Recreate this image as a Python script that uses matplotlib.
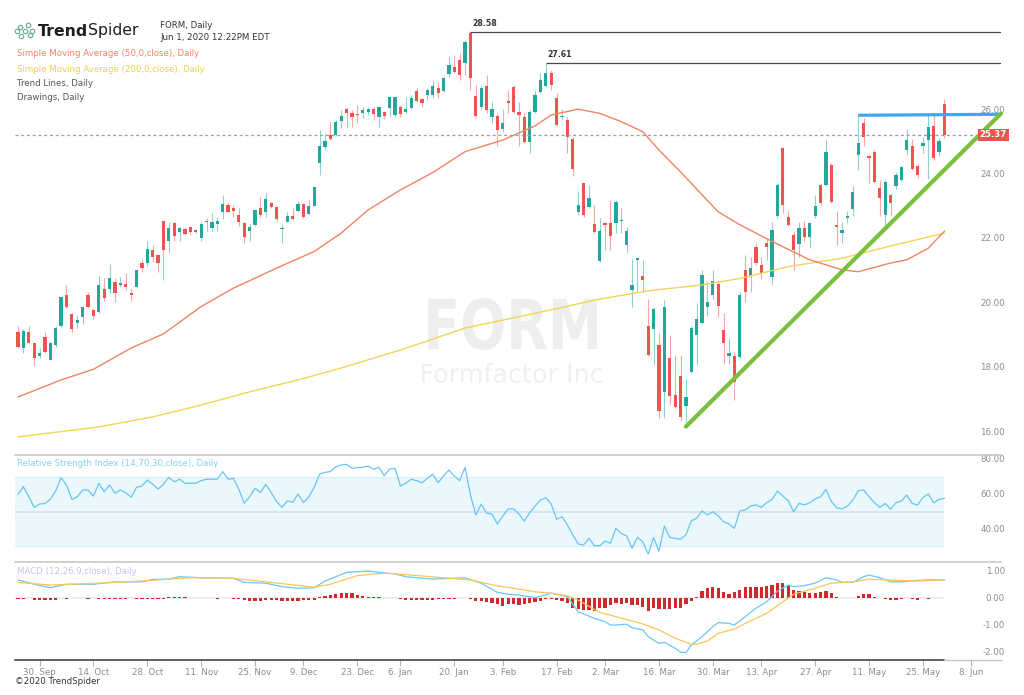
import numpy as np
import pandas as pd
import matplotlib
matplotlib.use("Agg")
import matplotlib.pyplot as plt
from matplotlib.lines import Line2D
from matplotlib.textpath import TextPath
from matplotlib.patches import PathPatch
from matplotlib.font_manager import FontProperties
from matplotlib.transforms import Affine2D, blended_transform_factory, ScaledTranslation

# ---------------- data ----------------
first_day = "2019-09-24"
holidays = ["2019-11-28", "2019-12-25", "2020-01-01", "2020-01-20",
            "2020-02-17", "2020-04-10", "2020-05-25"]

opens = [19.26, 18.74, 19.24, 18.90, 18.51, 19.10, 18.38, 18.85, 19.42, 20.40,
         19.81, 19.52, 19.71, 20.40, 19.93, 19.88, 20.57, 20.58, 20.79, 20.71,
         20.74, 20.45, 20.66, 21.38, 21.40, 21.80, 21.64, 22.70, 22.06, 22.62,
         22.34, 22.44, 22.52, 22.42, 22.18, 22.71, 22.47, 22.60, 22.96, 23.19,
         23.11, 22.88, 22.62, 22.37, 22.57, 23.09, 22.99, 23.25, 23.14, 22.44,
         22.68, 22.85, 23.02, 23.22, 22.90, 23.17, 24.51, 24.99, 25.37, 25.37,
         25.80, 26.17, 26.06, 26.02, 26.04, 26.07, 26.17, 25.94, 26.07, 26.20,
         25.99, 26.25, 26.09, 26.20, 26.74, 26.48, 26.61, 26.61, 26.82, 26.74,
         27.26, 27.49, 27.70, 27.61, 28.55, 26.58, 26.23, 26.89, 25.94, 25.96,
         25.55, 26.43, 26.85, 26.09, 25.94, 25.16, 26.09, 26.71, 26.89, 27.30,
         26.51, 25.92, 25.83, 25.23, 22.99, 23.87, 23.12, 22.60, 21.44, 22.63,
         22.63, 22.63, 22.69, 21.95, 20.56, 21.47, 20.99, 19.42, 19.34, 18.85,
         17.40, 18.43, 17.30, 17.89, 16.95, 18.02, 19.16, 19.54, 20.02, 20.40,
         20.73, 19.31, 18.51, 18.51, 18.47, 21.18, 20.99, 21.90, 21.33, 22.01,
         20.97, 22.84, 24.96, 22.81, 22.27, 21.99, 22.47, 22.21, 22.86, 23.82,
         23.82, 24.44, 22.58, 22.32, 22.78, 23.06, 24.75, 25.73, 24.70, 24.85,
         23.72, 22.89, 23.51, 23.77, 23.97, 24.91, 25.01, 24.41, 25.03, 25.22,
         25.65, 24.85, 26.33]
highs = [19.42, 19.33, 19.42, 18.90, 18.74, 19.26, 18.95, 19.45, 20.35, 20.71,
         19.83, 19.78, 20.06, 20.48, 19.98, 21.00, 20.92, 21.35, 20.92, 20.97,
         21.09, 20.57, 21.20, 21.51, 22.09, 21.95, 21.64, 22.70, 22.65, 22.65,
         22.52, 22.50, 22.55, 22.44, 22.65, 22.78, 22.93, 22.83, 23.50, 23.30,
         23.19, 23.09, 22.66, 22.62, 23.06, 23.45, 23.56, 23.30, 23.16, 22.59,
         22.99, 23.11, 23.33, 23.27, 23.35, 23.76, 25.52, 25.42, 25.78, 25.83,
         26.15, 26.20, 26.15, 26.30, 26.25, 26.23, 26.23, 26.27, 26.12, 26.56,
         26.58, 26.30, 26.56, 26.61, 26.84, 26.56, 26.82, 27.08, 27.00, 27.18,
         27.80, 27.85, 27.90, 28.32, 28.58, 26.92, 26.92, 27.23, 26.42, 26.04,
         26.17, 26.77, 26.92, 26.40, 26.06, 26.14, 26.77, 27.30, 27.61, 27.39,
         26.68, 26.17, 25.94, 25.32, 23.63, 23.89, 23.82, 23.20, 22.78, 22.68,
         23.35, 23.35, 23.09, 22.52, 21.51, 21.58, 21.49, 20.27, 20.04, 19.23,
         20.25, 19.16, 18.54, 18.54, 17.78, 19.44, 20.14, 21.18, 20.82, 21.18,
         20.87, 19.85, 19.06, 18.64, 20.50, 21.64, 21.59, 22.01, 21.59, 22.16,
         22.68, 23.87, 25.00, 23.04, 22.37, 22.68, 22.70, 22.68, 23.51, 23.87,
         25.22, 24.49, 23.00, 22.68, 23.00, 23.79, 25.99, 25.89, 24.75, 24.91,
         23.97, 23.97, 23.56, 24.23, 24.41, 25.55, 25.24, 24.47, 25.32, 25.99,
         25.99, 25.27, 26.48]
lows = [18.74, 18.59, 18.90, 18.20, 18.43, 18.59, 18.38, 18.79, 19.40, 19.98,
        19.26, 19.36, 19.50, 19.98, 19.65, 19.83, 20.22, 20.45, 20.17, 20.66,
        20.55, 20.22, 20.63, 21.12, 21.30, 21.43, 21.12, 20.86, 21.71, 22.08,
        22.08, 22.25, 22.26, 22.31, 22.08, 22.37, 22.37, 22.40, 22.75, 22.93,
        22.83, 22.55, 22.02, 22.08, 22.55, 22.83, 22.83, 23.09, 22.65, 22.00,
        22.66, 22.73, 22.99, 22.78, 22.88, 23.15, 24.13, 24.90, 25.21, 25.34,
        25.58, 25.58, 25.61, 25.73, 25.89, 25.99, 25.83, 25.63, 25.87, 25.94,
        25.92, 25.94, 26.04, 26.17, 26.40, 26.23, 26.46, 26.51, 26.51, 26.70,
        27.18, 27.28, 27.08, 27.23, 26.77, 25.94, 26.15, 26.04, 25.73, 25.03,
        25.47, 26.04, 26.06, 25.03, 25.12, 24.80, 26.04, 26.68, 26.87, 26.77,
        25.65, 25.83, 24.82, 24.09, 22.89, 22.83, 23.09, 22.32, 21.41, 21.80,
        21.80, 22.32, 22.32, 21.70, 20.04, 20.50, 20.50, 18.50, 18.23, 16.57,
        16.57, 16.98, 16.90, 16.47, 16.31, 17.99, 18.23, 19.50, 19.73, 20.27,
        19.71, 18.26, 18.26, 17.14, 18.45, 20.19, 20.50, 21.33, 20.89, 21.49,
        20.71, 22.80, 22.94, 22.53, 21.18, 21.59, 22.06, 21.85, 22.78, 23.20,
        23.77, 23.25, 21.96, 22.01, 22.63, 22.84, 24.29, 25.01, 23.87, 23.89,
        22.84, 22.53, 22.84, 23.68, 23.95, 24.75, 24.29, 24.03, 24.80, 24.00,
        24.60, 24.70, 25.27]
closes = [18.79, 19.28, 18.92, 18.43, 18.61, 18.64, 18.90, 19.38, 20.32, 20.01,
          19.34, 19.62, 20.04, 20.01, 19.75, 20.71, 20.30, 20.92, 20.47, 20.78,
          20.64, 20.40, 21.16, 21.23, 21.82, 21.59, 21.40, 21.80, 22.47, 22.23,
          22.49, 22.28, 22.34, 22.34, 22.59, 22.65, 22.68, 22.71, 23.22, 22.96,
          23.02, 22.68, 22.21, 22.52, 23.04, 22.88, 23.38, 23.14, 22.75, 22.49,
          22.85, 22.75, 23.22, 22.83, 23.17, 23.74, 25.03, 25.18, 25.23, 25.78,
          25.96, 26.04, 25.92, 25.98, 26.15, 26.17, 26.01, 26.23, 25.97, 26.54,
          26.54, 26.01, 26.18, 26.51, 26.43, 26.35, 26.77, 26.90, 26.66, 27.13,
          27.54, 27.31, 27.23, 28.27, 27.13, 25.97, 26.82, 26.15, 26.17, 25.52,
          25.75, 26.37, 26.09, 25.99, 25.16, 26.09, 26.61, 27.08, 27.28, 26.92,
          25.68, 25.96, 25.32, 24.30, 23.18, 22.89, 23.40, 22.34, 22.37, 22.58,
          22.23, 23.30, 22.73, 22.37, 20.71, 21.54, 20.87, 18.54, 19.96, 16.78,
          20.02, 17.26, 16.93, 16.62, 17.24, 19.37, 19.65, 21.02, 20.19, 20.84,
          20.06, 18.92, 18.61, 17.71, 20.40, 20.50, 21.23, 21.38, 21.09, 21.90,
          22.42, 23.82, 23.20, 22.58, 21.80, 22.47, 22.21, 22.63, 23.17, 23.25,
          24.85, 23.30, 22.51, 22.42, 22.86, 23.61, 25.11, 25.32, 24.65, 23.92,
          23.41, 23.92, 23.25, 24.13, 24.37, 25.22, 24.31, 24.13, 25.13, 25.63,
          24.65, 25.17, 25.37]

# moving averages, read at the points where the curves bend (day index, price)
sma50_day = [0, 8, 14, 21, 27, 34, 40, 48, 55, 60, 65, 71, 77, 83, 90, 96, 99,
             104, 108, 112, 116, 119, 123, 127, 130, 134, 140, 147, 153, 156,
             162, 165, 169, 172]
sma50 = [17.23, 17.76, 18.09, 18.75, 19.19, 20.04, 20.61, 21.23, 21.75, 22.32,
         23.04, 23.66, 24.20, 24.85, 25.21, 25.65, 25.99, 26.17, 26.04, 25.78,
         25.47, 24.90, 24.22, 23.51, 22.98, 22.58, 22.06, 21.49, 21.18, 21.12,
         21.39, 21.49, 21.85, 22.38]
sma200_day = [0, 15, 25, 34, 43, 52, 60, 71, 83, 96, 108, 117, 127, 134, 143,
              153, 162, 172]
sma200 = [15.99, 16.30, 16.61, 16.98, 17.39, 17.76, 18.13, 18.69, 19.37, 19.83,
          20.27, 20.53, 20.71, 20.91, 21.28, 21.54, 21.92, 22.32]

rsi = [60.0, 64.4, 58.6, 52.5, 54.4, 54.8, 57.1, 62.1, 69.6, 65.4,
       57.1, 58.6, 62.5, 62.5, 59.0, 66.4, 61.5, 65.4, 60.6, 62.5,
       61.0, 58.3, 64.1, 64.8, 68.3, 65.8, 63.1, 65.8, 69.8, 67.3,
       68.7, 66.4, 66.4, 66.4, 67.9, 68.7, 68.7, 68.8, 73.1, 68.7,
       69.2, 62.9, 54.8, 58.6, 63.5, 61.0, 65.8, 61.0, 55.8, 52.5,
       56.2, 55.4, 60.2, 55.2, 58.6, 64.1, 71.7, 72.7, 73.1, 75.9,
       76.9, 77.3, 75.0, 75.4, 75.6, 76.3, 74.4, 75.6, 70.7, 74.6,
       75.0, 64.8, 66.4, 68.7, 67.9, 66.7, 69.2, 71.6, 66.7, 70.6,
       74.0, 70.6, 67.9, 75.6, 59.6, 48.1, 54.4, 49.1, 48.7, 42.9,
       47.5, 51.6, 51.6, 48.7, 44.6, 49.4, 53.3, 56.7, 58.1, 54.4,
       45.6, 47.1, 42.3, 36.6, 31.4, 30.8, 34.7, 30.4, 30.4, 33.1,
       31.8, 40.4, 37.5, 36.0, 28.9, 35.2, 32.7, 25.6, 35.0, 27.3,
       41.8, 35.2, 34.7, 34.1, 36.6, 44.8, 46.2, 50.4, 48.1, 50.0,
       47.5, 44.2, 42.9, 40.4, 50.4, 51.0, 53.3, 53.9, 52.5, 55.2,
       57.1, 61.9, 59.0, 56.3, 50.0, 54.8, 53.9, 55.2, 57.3, 58.6,
       62.9, 55.8, 52.3, 51.6, 53.3, 56.7, 62.1, 62.5, 58.6, 55.2,
       52.5, 54.8, 51.4, 55.2, 56.2, 59.6, 54.8, 53.9, 58.1, 60.2,
       55.2, 57.1, 57.7]

macd_hist = [-0.02, -0.02, 0.0, -0.08, -0.08, -0.08, -0.08, -0.08, 0.0, -0.01,
             0.0, 0.0, 0.0, -0.01, 0.0, -0.02, -0.02, -0.03, -0.03, -0.03,
             -0.02, 0.0, -0.02, -0.02, -0.03, -0.03, -0.03, -0.03, 0.04, 0.04,
             0.04, 0.03, 0.02, 0.01, 0.0, 0.0, 0.0, -0.02, 0.0, 0.0,
             -0.02, -0.03, -0.08, -0.10, -0.10, -0.09, -0.08, -0.06, -0.07, -0.10,
             -0.10, -0.10, -0.10, -0.08, -0.07, -0.05, 0.04, 0.08, 0.12, 0.17,
             0.20, 0.20, 0.18, 0.14, 0.10, 0.06, 0.05, 0.04, 0.0, 0.0,
             0.0, -0.04, -0.06, -0.06, -0.06, -0.06, -0.06, -0.05, -0.04, -0.03,
             -0.01, -0.01, 0.0, 0.01, -0.02, -0.10, -0.10, -0.12, -0.18, -0.22,
             -0.30, -0.22, -0.22, -0.25, -0.22, -0.19, -0.12, -0.09, -0.04, -0.02,
             -0.06, -0.10, -0.19, -0.35, -0.41, -0.43, -0.43, -0.47, -0.37, -0.37,
             -0.25, -0.19, -0.21, -0.19, -0.25, -0.25, -0.31, -0.47, -0.35, -0.40,
             -0.40, -0.40, -0.37, -0.37, -0.22, -0.09, 0.06, 0.27, 0.37, 0.40,
             0.37, 0.25, 0.15, 0.25, 0.31, 0.40, 0.43, 0.43, 0.43, 0.47,
             0.49, 0.56, 0.56, 0.49, 0.31, 0.27, 0.22, 0.19, 0.19, 0.22,
             0.27, 0.19, 0.06, 0.02, 0.0, 0.01, 0.09, 0.15, 0.15, 0.06,
             0.0, -0.04, -0.06, -0.06, -0.04, 0.0, -0.04, -0.05, 0.0, -0.02,
             0.0, 0.0, 0.0]
macd_day = [0, 3, 6, 9, 14, 18, 23, 25, 28, 30, 34, 40, 42, 46, 49, 52, 55, 57,
            61, 65, 67, 70, 72, 77, 83, 86, 89, 91, 93, 96, 99, 102, 104, 107,
            109, 110, 111, 113, 114, 116, 117, 119, 120, 122, 123, 124, 125, 127,
            129, 130, 132, 133, 135, 137, 139, 141, 143, 144, 146, 148, 150, 152,
            153, 155, 157, 158, 160, 162, 164, 167, 169, 172]
macd = [0.68, 0.52, 0.39, 0.52, 0.52, 0.61, 0.61, 0.70, 0.71, 0.80, 0.76, 0.74,
        0.59, 0.56, 0.43, 0.37, 0.39, 0.64, 0.96, 1.01, 0.96, 0.90, 0.80, 0.71,
        0.76, 0.56, 0.22, 0.15, 0.12, 0.02, 0.19, 0.06, -0.50, -0.74, -0.87,
        -0.99, -0.99, -0.96, -1.09, -1.17, -1.42, -1.67, -1.63, -1.85, -2.00,
        -2.01, -1.73, -1.42, -1.05, -0.90, -0.93, -0.99, -0.68, -0.37, -0.13,
        0.27, 0.49, 0.43, 0.47, 0.56, 0.76, 0.68, 0.59, 0.59, 0.80, 0.86, 0.76,
        0.61, 0.61, 0.66, 0.68, 0.68]
signal_day = [0, 6, 15, 23, 32, 40, 46, 55, 58, 63, 68, 73, 79, 84, 89, 92, 96,
              99, 102, 104, 108, 111, 116, 119, 122, 125, 126, 128, 130, 133, 135,
              139, 142, 144, 148, 151, 155, 158, 161, 167, 172]
signal = [0.59, 0.49, 0.56, 0.64, 0.76, 0.74, 0.61, 0.41, 0.52, 0.84, 0.93, 0.86,
          0.76, 0.68, 0.46, 0.37, 0.24, 0.19, 0.09, -0.07, -0.52, -0.68, -0.95,
          -1.17, -1.48, -1.70, -1.70, -1.58, -1.30, -1.14, -0.93, -0.56, -0.13,
          0.15, 0.37, 0.56, 0.61, 0.71, 0.68, 0.64, 0.68]

# drawings
resistance = [28.58, 27.61]
breakout_day, breakout_price = "2020-05-07", [25.98, 26.01]
trend_days, trend_prices = ["2020-03-23", "2020-05-14"], [16.31, 22.46]

tick_dates = ["2019-09-30", "2019-10-14", "2019-10-28", "2019-11-11", "2019-11-25",
              "2019-12-09", "2019-12-23", "2020-01-06", "2020-01-20", "2020-02-03",
              "2020-02-17", "2020-03-02", "2020-03-16", "2020-03-30", "2020-04-13",
              "2020-04-27", "2020-05-11", "2020-05-25", "2020-06-08"]
price_ticks = [16, 18, 20, 22, 24, 26]
rsi_ticks = [40, 60, 80]
macd_ticks = [1, 0, -1, -2]

# ---------------- figure ----------------
W, H = 1024, 695
GREEN, RED = "#26A69A", "#EF5350"
LABEL = "#8c8c8c"
FS = 6.2

days = pd.bdate_range(first_day, periods=len(opens) + 20, freq="C", holidays=holidays)
n = len(opens)
idx = np.arange(n)
o, h, l, c = map(np.array, (opens, highs, lows, closes))

def day_pos(d):
    return int(days.searchsorted(pd.Timestamp(d)))

fig = plt.figure(figsize=(W / 100, H / 100), dpi=100)
fig.patch.set_facecolor("white")

def fx(px):
    return px / W

def fy(py):
    return 1 - py / H

x_left, x_right = -0.56, 182.5

def panel(top, bottom, ylim):
    ax = fig.add_axes([fx(15), fy(bottom), fx(1001) - fx(15), (bottom - top) / H])
    ax.set_facecolor("none")
    for s in ax.spines.values():
        s.set_visible(False)
    ax.set_xticks([])
    ax.set_yticks([])
    ax.set_xlim(x_left, x_right)
    ax.set_ylim(*ylim)
    return ax

ax = panel(0, 453, (15.49, 29.56))
ax_rsi = panel(455, 557, (23.89, 82.68))
ax_macd = panel(562, 660, (-2.285, 1.344))

# watermark
def stamp(text, weight, box, color):
    tp = TextPath((0, 0), text, size=10,
                  prop=FontProperties(family="DejaVu Sans", weight=weight))
    bb = tp.get_extents()
    x0, y0, x1, y1 = box
    tr = (Affine2D().translate(-bb.x0, -bb.y0)
          .scale((x1 - x0) / bb.width / W, (y1 - y0) / bb.height / H)
          .translate(fx(x0), fy(y1)) + fig.transFigure)
    fig.add_artist(PathPatch(tp, transform=tr, fc=color, ec="none", zorder=-5))

stamp("FORM", "bold", (428, 298, 597, 350), "#EEEEEE")
stamp("Formfactor Inc", "normal", (422, 363, 602, 383), "#EFEFEF")

# candles
col = np.where(c >= o, GREEN, RED)
ax.vlines(idx, l, h, colors=col, alpha=0.5, lw=0.8, zorder=2)
ax.bar(idx, np.maximum(np.abs(c - o), 0.03), bottom=np.minimum(o, c), width=0.6,
       color=col, lw=0, zorder=3)

ax.plot(sma200_day, sma200, color="#F3D458", lw=1.0, zorder=4)
ax.plot(sma50_day, sma50, color="#F08562", lw=1.0, zorder=4)

for lvl in resistance:
    start = int(np.argmin(np.abs(h - lvl)))
    ax.plot([start, x_right], [lvl, lvl], color="#4a4a4a", lw=0.9, zorder=4,
            solid_capstyle="butt")
    ax.annotate(f"{lvl:.2f}", (start, lvl), xytext=(1.2, 2.8), textcoords="offset points",
                fontsize=5.6, fontweight="bold", color="#333333", va="bottom")

last = closes[-1]
ax.plot([x_left, 178], [last, last], color="#9a9a9a", lw=0.9, ls=(0, (2.3, 2.3)), zorder=4)

b0 = day_pos(breakout_day)
ax.plot([b0, x_right], breakout_price, color="#3FA9F0", lw=2.3, zorder=5,
        solid_capstyle="butt", clip_on=False)

t0, t1 = day_pos(trend_days[0]), day_pos(trend_days[1])
slope = (trend_prices[1] - trend_prices[0]) / (t1 - t0)
ax.plot([t0, x_right], [trend_prices[0], trend_prices[0] + slope * (x_right - t0)],
        color="#7CBF3A", lw=3.0, zorder=5, solid_capstyle="round", clip_on=False)

def right_labels(a, values, fmt, dy=0.0):
    tr = blended_transform_factory(a.transAxes, a.transData) + \
        ScaledTranslation(0, dy / 100, fig.dpi_scale_trans)
    for v in values:
        a.text(1.004, v, fmt.format(v), transform=tr, ha="right", va="center",
               fontsize=FS, color=LABEL, clip_on=False, zorder=1)

right_labels(ax, price_ticks, "{:.2f}", dy=4.5)
ax.text(0.992, last, f"{last:.2f}", transform=blended_transform_factory(ax.transAxes, ax.transData),
        ha="center", va="center", color="white", fontsize=6.2, fontweight="bold", zorder=7,
        bbox=dict(boxstyle="square,pad=0.22", fc="#EF5350", ec="none"))

# RSI
end_frac = (idx[-1] - x_left) / (x_right - x_left)
ax_rsi.axhspan(30, 70, xmin=0, xmax=end_frac, color="#EAF7FB", lw=0, zorder=0)
ax_rsi.hlines([30, 70], x_left, idx[-1], color="#D6EFF8", lw=0.8, zorder=1)
ax_rsi.hlines(50, x_left, idx[-1], color="#D8E1F2", lw=1.3, zorder=1)
ax_rsi.plot(idx, rsi, color="#66C6F4", lw=0.9, zorder=3)
right_labels(ax_rsi, rsi_ticks, "{:.2f}")

# MACD
ax_macd.hlines(0, x_left, idx[-1], color="#EEEEEE", lw=1.5, zorder=0)
ax_macd.bar(idx, macd_hist, width=0.6, color="#D0282B", lw=0, zorder=2)
ax_macd.plot(macd_day, macd, color="#6CC6F4", lw=0.9, zorder=3)
ax_macd.plot(signal_day, signal, color="#F8C65A", lw=0.9, zorder=3)
right_labels(ax_macd, macd_ticks, "{:.2f}")

for a in (ax_rsi, ax_macd):
    a.spines["top"].set_visible(True)
    a.spines["top"].set_color("#C8C8C8")
    a.spines["top"].set_linewidth(1.2)

# time axis
yb = ax_macd.get_ylim()[0]
ax_macd.plot([x_left, idx[-1]], [yb, yb], color="#333333", lw=1.1, clip_on=False, zorder=5)
ax_macd.plot([idx[-1], x_right], [yb, yb], color="#c4c4c4", lw=1.0, clip_on=False, zorder=5)
tick_pos = [day_pos(d) for d in tick_dates]
tick_lab = [f"{pd.Timestamp(d).day}. {pd.Timestamp(d).strftime('%b')}" for d in tick_dates]
ax_macd.set_xticks(tick_pos)
ax_macd.set_xticklabels(tick_lab, fontsize=FS, color=LABEL)
ax_macd.tick_params(axis="x", bottom=True, length=4.5, width=0.8, color="#b5b5b5", pad=1.5)

# header
fig.text(fx(17), fy(464), "Relative Strength Index (14,70,30,close), Daily",
         fontsize=FS, color="#85CEF2", va="center")
fig.text(fx(17), fy(571), "MACD (12,26,9,close), Daily", fontsize=FS,
         color="#C6C3EE", va="center")
fig.text(fx(15), fy(682), "\u00a92020 TrendSpider", fontsize=FS, color="#333333", va="center")

t_trend = fig.text(fx(38), fy(35.5), "Trend", fontsize=11.3, fontweight="bold",
                   color="#1e1e1e", va="baseline")
r = fig.canvas.get_renderer()
bb = t_trend.get_window_extent(r)
fig.text(bb.x1 / W, fy(35.5), "Spider", fontsize=11.3, color="#1e1e1e", va="baseline")
logo_x = [16.5, 20, 21, 25, 27.5, 29.5, 32]
logo_y = [31, 26.5, 35.5, 30.5, 25, 35, 30.5]
fig.add_artist(Line2D([fx(v) for v in logo_x], [fy(v) for v in logo_y],
                      transform=fig.transFigure, ls="none", marker="o", ms=3.2,
                      mfc="none", mec="#6FAE9E", mew=0.9))

fig.text(fx(160), fy(26), "FORM, Daily", fontsize=FS, color="#333333", va="center")
fig.text(fx(160), fy(37.5), "Jun 1, 2020 12:22PM EDT", fontsize=FS, color="#333333", va="center")
fig.text(fx(17), fy(54), "Simple Moving Average (50,0,close), Daily", fontsize=FS,
         color="#F08466", va="center")
fig.text(fx(17), fy(69), "Simple Moving Average (200,0,close), Daily", fontsize=FS,
         color="#F0CD55", va="center")
fig.text(fx(17), fy(83.5), "Trend Lines, Daily", fontsize=FS, color="#555555", va="center")
fig.text(fx(17), fy(98), "Drawings, Daily", fontsize=FS, color="#555555", va="center")

fig.savefig("out.png", dpi=100)
